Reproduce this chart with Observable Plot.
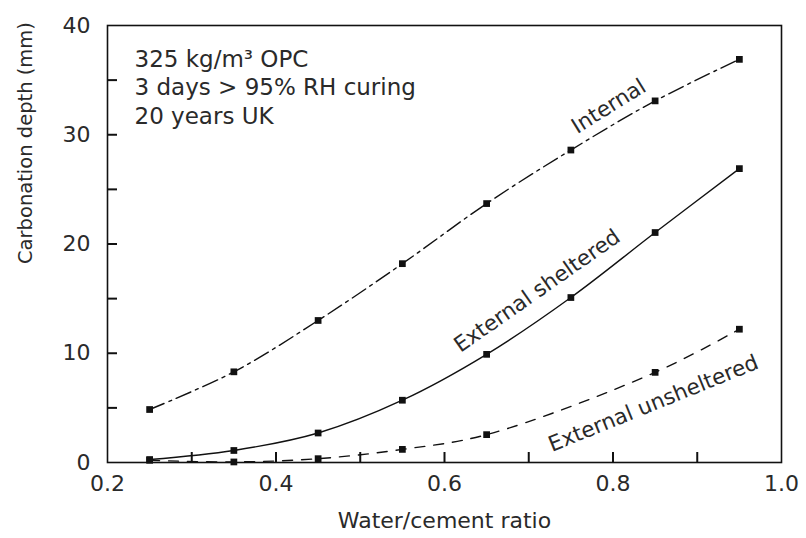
<!DOCTYPE html>
<html><head><meta charset="utf-8">
<script src="https://cdn.jsdelivr.net/npm/d3@7"></script>
<script src="https://cdn.jsdelivr.net/npm/@observablehq/plot@0.6"></script>
<style>body{margin:0;background:#fff} svg{display:block}</style>
</head><body><div id="chart"></div>
<script>
// ---- data ----
const wcRatio = [0.25, 0.35, 0.45, 0.55, 0.65, 0.75, 0.85, 0.95];
const internal = [4.85, 8.3, 13.0, 18.2, 23.7, 28.6, 33.1, 36.9];
const externalSheltered = [0.27, 1.1, 2.7, 5.7, 9.9, 15.1, 21.05, 26.9];
const externalUnsheltered = [0.2, 0.05, 0.35, 1.2, 2.55, null, 8.25, 12.2];
const seriesNames = ["Internal", "External sheltered", "External unsheltered"];
const xTickLabels = [0.2, 0.4, 0.6, 0.8, 1.0];
const xTicks = [0.3, 0.4, 0.5, 0.6, 0.7, 0.8, 0.9];
const yTickLabels = [0, 10, 20, 30, 40];
const yTicks = [5, 10, 15, 20, 25, 30, 35];
const infoLines = ["325 kg/m³ OPC", "3 days > 95% RH curing", "20 years UK"];
const xTitle = "Water/cement ratio";
const yTitle = "Carbonation depth (mm)";
// curve labels (anchored in data units)
const labelText = ["Internal", "External sheltered", "External unsheltered"];
const labelX = [0.795, 0.71, 0.848];
const labelY = [32.6, 15.7, 5.4];
const labelAngle = [-32, -35, -22];

// ---- build table ----
const valueArrays = [internal, externalSheltered, externalUnsheltered];
const rows = [];
seriesNames.forEach((s, si) => {
  wcRatio.forEach((x, i) => {
    const v = valueArrays[si][i];
    if (v != null) rows.push({series: s, x, y: v});
  });
});
const labels = labelText.map((t, i) => ({text: t, x: labelX[i], y: labelY[i], angle: labelAngle[i]}));
const dashes = {"Internal": "16,5,3,5", "External sheltered": null, "External unsheltered": "10,9"};
const ink = "#111";
const textInk = "#2a2a2a";

const W = 806, H = 538, mL = 107, mR = 25, mT = 25, mB = 76, tickPx = 10;
const xDomain = [0.2, 1.0], yDomain = [0, 40];

const chart = Plot.plot({
  width: W,
  height: H,
  marginLeft: mL,
  marginRight: mR,
  marginTop: mT,
  marginBottom: mB,
  style: {fontFamily: "'DejaVu Sans', sans-serif", background: "#fff", color: textInk},
  x: {domain: xDomain, label: null},
  y: {domain: yDomain, label: null},
  marks: [
    Plot.axisX(xTickLabels, {tickSize: 0, tickPadding: 13, tickFormat: d3.format(".1f"), fontSize: 22, label: null, fill: textInk}),
    Plot.axisY(yTickLabels, {tickSize: 0, tickPadding: 17, fontSize: 22, label: null, fill: textInk}),
    Plot.frame({stroke: ink, strokeWidth: 1.6}),
    ...seriesNames.map(s => Plot.line(rows.filter(d => d.series === s), {
      x: "x", y: "y", curve: "catmull-rom", stroke: ink, strokeWidth: 1.4,
      strokeDasharray: dashes[s]
    })),
    Plot.dot(rows, {x: "x", y: "y", symbol: "square", r: 3.8, fill: ink, stroke: "none"}),
    // inward ticks (drawn on top)
    Plot.tickX(xTicks, {x: d => d, insetTop: (H - mT - mB) - tickPx, stroke: ink, strokeWidth: 2}),
    Plot.tickY(yTicks, {y: d => d, insetRight: (W - mL - mR) - tickPx, stroke: ink, strokeWidth: 2}),
    Plot.text(labels, {x: "x", y: "y", text: "text", rotate: d => d.angle, fontSize: 21.5, fill: textInk}),
    Plot.text([infoLines.join("\n")], {frameAnchor: "top-left", lineAnchor: "top", textAnchor: "start", dx: 27, dy: 22, fontSize: 23, lineHeight: 1.22, fill: textInk}),
    Plot.text([xTitle], {frameAnchor: "bottom", lineAnchor: "top", dy: 50, fontSize: 22, fill: textInk}),
    Plot.text([yTitle], {frameAnchor: "left", rotate: -90, dx: -82, dy: 20, fontSize: 19.5, fill: textInk})
  ]
});
document.getElementById("chart").appendChild(chart);
</script>
</body></html>
